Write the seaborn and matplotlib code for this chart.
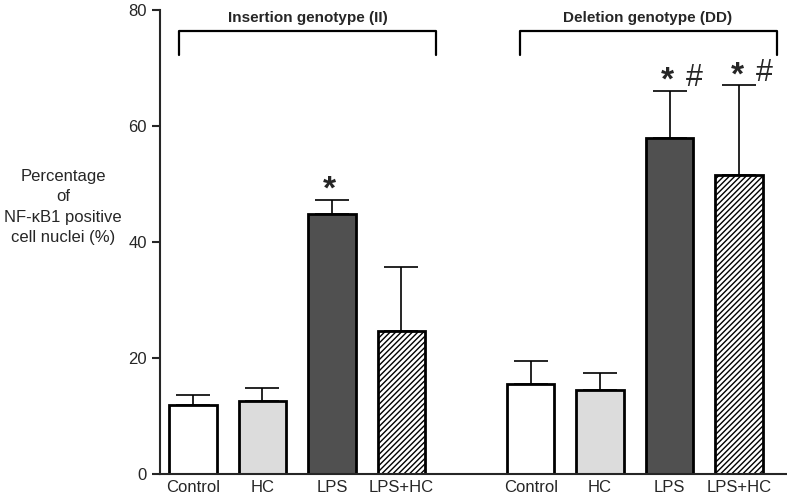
import matplotlib
matplotlib.use("Agg")
import matplotlib.pyplot as plt
import seaborn as sns
import pandas as pd
import numpy as np

treatments = ["Control", "HC", "LPS", "LPS+HC"]
positions = [0, 1, 2, 3, 4.86, 5.86, 6.86, 7.86]
tick_labels = ["Control", "HC", "LPS", "LPS+HC", "Control", "HC", "LPS", "LPS+HC"]
means = [11.9, 12.6, 44.8, 24.6, 15.5, 14.5, 58.0, 51.5]
errors = [1.8, 2.2, 2.4, 11.1, 4.0, 2.9, 8.1, 15.5]
group_names = ["Insertion genotype (II)", "Deletion genotype (DD)"]
stars = ["", "", "*", "", "", "", "*", "*"]
hashes = ["", "", "", "", "", "", "#", "#"]

colors = {"Control": "#ffffff", "HC": "#dcdcdc", "LPS": "#505050", "LPS+HC": "#ffffff"}

sns.set_style("ticks")
plt.rcParams["font.family"] = ["Liberation Sans", "DejaVu Sans"]
plt.rcParams["hatch.linewidth"] = 1.0

df = pd.DataFrame({"pos": positions, "value": means,
                   "treatment": treatments * 2})

fig = plt.figure(figsize=(7.87, 4.97), dpi=100)
ax = fig.add_axes([160 / 787, 1 - 474 / 497, 1 - 160 / 787, (474 - 10) / 497])

sns.barplot(data=df, x="pos", y="value", hue="treatment", hue_order=treatments,
            palette=colors, native_scale=True, dodge=False, width=0.68,
            errorbar=None, edgecolor="black", linewidth=2, legend=False, ax=ax)

for patch in ax.containers[3]:
    patch.set_hatch("//////")

ax.errorbar(positions, means, yerr=[np.zeros(len(errors)), errors], fmt="none",
            ecolor="black", elinewidth=1.2, capsize=12, capthick=1.2, zorder=1)

ax.set_xlim(-0.475, 8.55)
ax.set_ylim(0, 80)
ax.set_yticks([0, 20, 40, 60, 80])
ax.set_xticks(positions)
ax.set_xticklabels(tick_labels, fontsize=12)
ax.tick_params(axis="x", length=0, pad=4)
ax.tick_params(axis="y", labelsize=12, length=6, width=1.5)
ax.set_xlabel("")
ax.set_ylabel("")
for s in ["top", "right"]:
    ax.spines[s].set_visible(False)
ax.spines["left"].set_linewidth(1.5)
ax.spines["bottom"].set_linewidth(1.5)

# Significance annotations
for x, m, e, st, hs in zip(positions, means, errors, stars, hashes):
    if st:
        ax.text(x - 0.03, m + e - 1.0, st, ha="center", va="bottom",
                fontsize=24, fontweight="bold")
    if hs:
        ax.text(x + 0.36, m + e - 0.4, hs, ha="center", va="bottom", fontsize=22)

# Group brackets
brackets = [(-0.2, 3.5), (4.7, 8.4)]
for (x0, x1), name in zip(brackets, group_names):
    ax.plot([x0, x0, x1, x1], [72.3, 76.4, 76.4, 72.3], color="black", lw=1.6, clip_on=False)
    ax.text((x0 + x1) / 2, 77.4, name, ha="center", va="bottom", fontsize=11, fontweight="bold")

fig.text(63 / 787, 1 - 207 / 497, "Percentage\nof\nNF-\u03baB1 positive\ncell nuclei (%)",
         ha="center", va="center", fontsize=12, linespacing=1.45)

fig.savefig("out.png", dpi=100)
